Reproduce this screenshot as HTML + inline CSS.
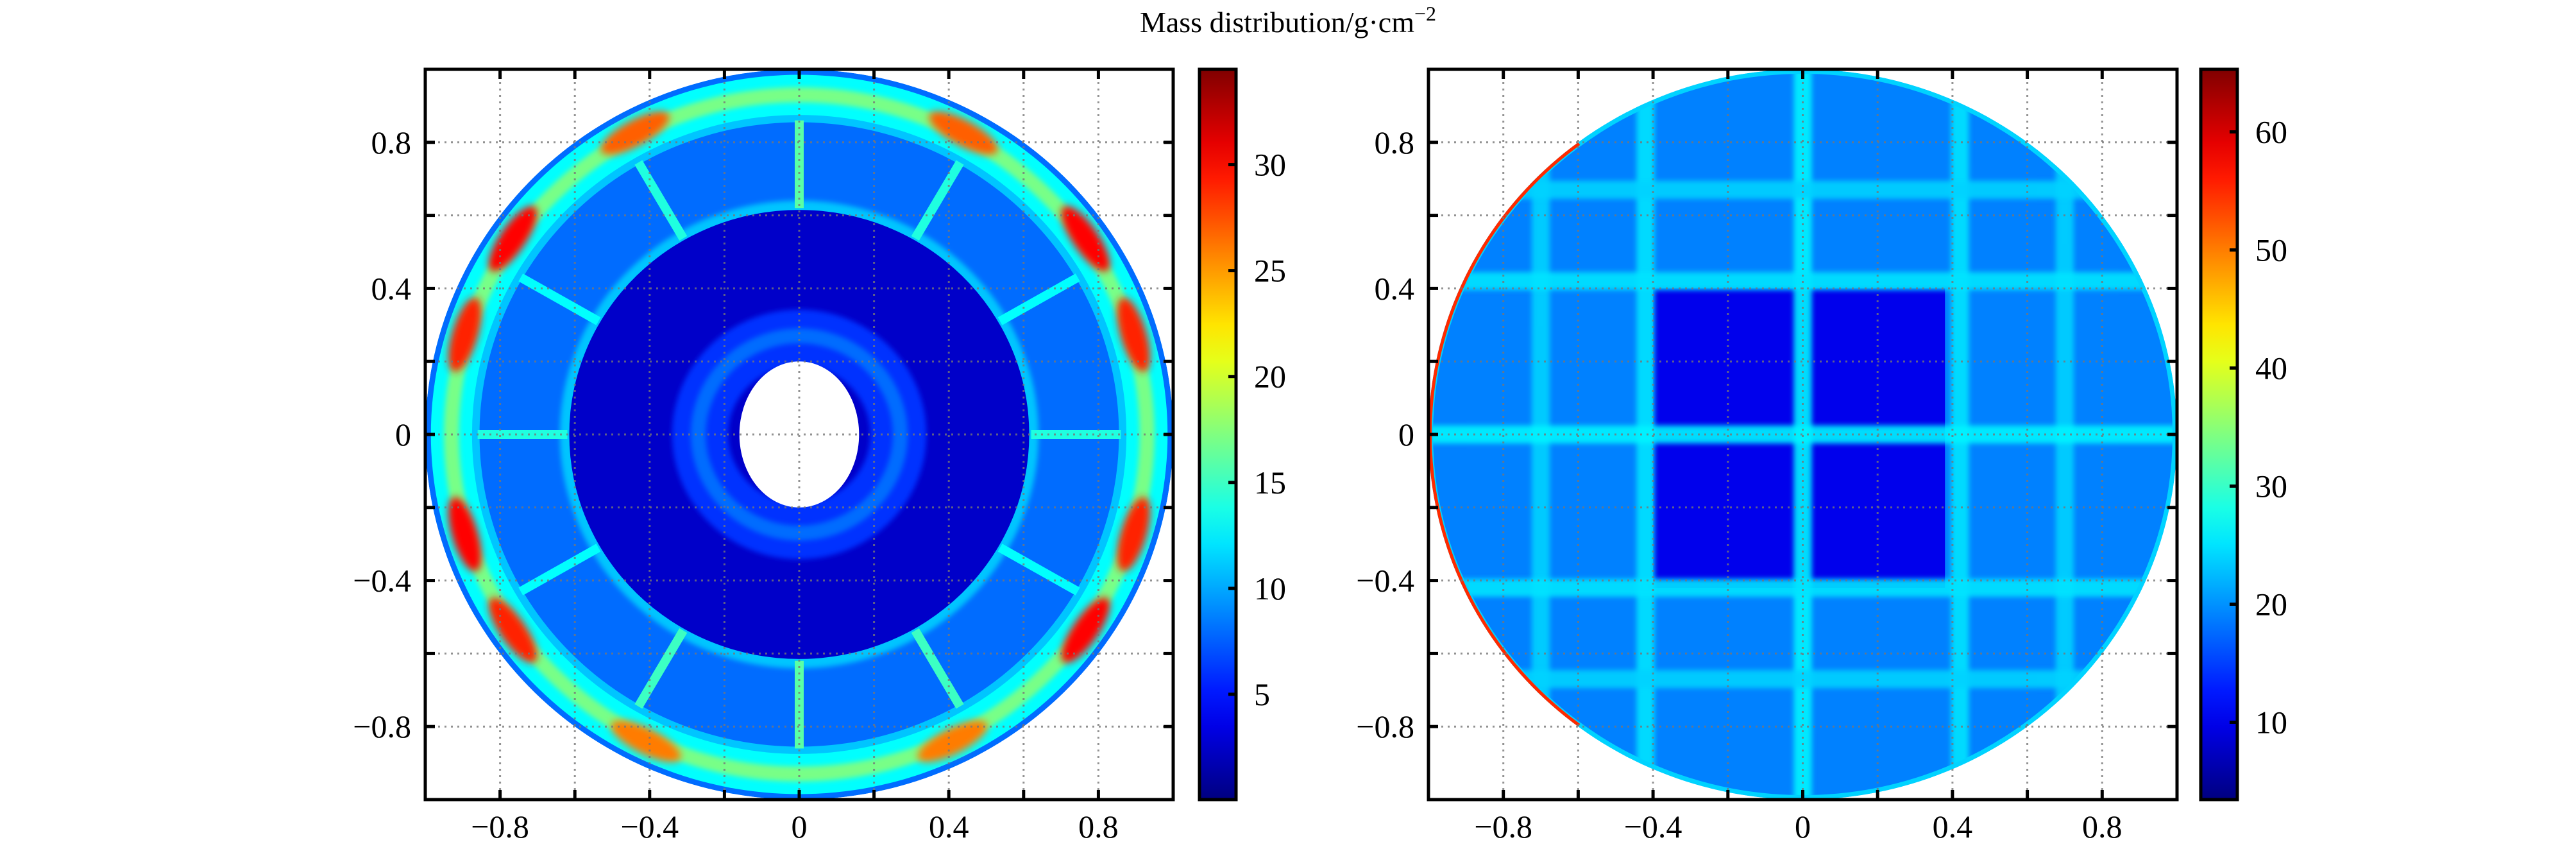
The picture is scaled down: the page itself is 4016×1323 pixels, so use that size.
<!DOCTYPE html>
<html><head><meta charset="utf-8"><style>
html,body{margin:0;padding:0;background:#fff;}
svg{display:block;font-family:"Liberation Serif",serif;}
</style></head><body>
<svg id="fig" xmlns="http://www.w3.org/2000/svg" width="4016" height="1323" viewBox="0 0 4016 1323">
<defs>
<filter id="blur6" x="-50%" y="-50%" width="200%" height="200%"><feGaussianBlur stdDeviation="6"/></filter>
<filter id="blur4" x="-50%" y="-50%" width="200%" height="200%"><feGaussianBlur stdDeviation="4"/></filter>
</defs>
<text x="2008" y="50" text-anchor="middle" font-size="46">Mass distribution/g·cm<tspan dy="-18" font-size="32">−2</tspan></text>
<g id="left"></g>
<g id="right"></g>
</svg>
<script>
// ---------- data ----------
const axisTicks = [-1,-0.8,-0.6,-0.4,-0.2,0,0.2,0.4,0.6,0.8,1];
const axisTickLabels = ["−0.8","−0.4","0","0.4","0.8"];
const axisLabelValues = [-0.8,-0.4,0,0.4,0.8];
const leftCbarTicks = [5,10,15,20,25,30];
const rightCbarTicks = [10,20,30,40,50,60];
const leftRange = [0.03,34.5];
const rightRange = [3.45,65.3];
// left panel: rings [rInner, rOuter, value]  (rInner 0 = filled disk)
const leftRings = [[0,1.0,8],[0,0.985,13],[0.91,0.95,17],[0,0.875,11],[0,0.855,8],[0.6,0.64,11],[0,0.615,2.5],[0.19,0.34,6],[0.25,0.29,8]];
const leftSpokeAngles = [0,30,60,90,120,150,180,210,240,270,300,330];
const leftSpokeValues = [14,13,14,16,14,13,14,13,15,16,15,13];
const leftHotAngles = [17,35,62,118,145,163,197,215,244,296,325,343];
const leftHotValues = [29,30,27,27,30,29,30,29,26,26,30,29];
const leftHoleRadius = 0.2;
// right panel
const rightDiskValue = 19;
const rightSquareValue = 10;
const rightSquare = [-0.4,0.38,-0.42,0.4];
const rightVBands = [-0.7,-0.42,0,0.42,0.7];
const rightHBands = [-0.67,-0.42,0,0.42,0.67];
const rightBandValues = [24,25,26,25,24];
const rightEdgeValue = 55;

// ---------- helpers ----------
const NS="http://www.w3.org/2000/svg";
function mk(tag,attrs,parent){const e=document.createElementNS(NS,tag);for(const k in attrs)e.setAttribute(k,attrs[k]);parent.appendChild(e);return e;}
function clamp(v){return Math.max(0,Math.min(1,v));}
function jet(t){t=clamp(t);const r=clamp(1.5-Math.abs(4*t-3)),g=clamp(1.5-Math.abs(4*t-2)),b=clamp(1.5-Math.abs(4*t-1));return `rgb(${Math.round(r*255)},${Math.round(g*255)},${Math.round(b*255)})`;}
function makeAxes(x0,x1){return {x:v=>(x0+x1)/2+v*(x1-x0)/2,y:v=>677-v*569,sx:(x1-x0)/2,sy:569};}
const L=makeAxes(663,1829), R=makeAxes(2227,3394);
const fig=document.getElementById('fig');

function drawFrame(g,A,name){
  axisTicks.forEach(v=>{
    if(Math.abs(v)>0.99)return;
    const gl=mk('line',{x1:A.x(v),x2:A.x(v),y1:A.y(1),y2:A.y(-1),stroke:'#777','stroke-width':3,'stroke-dasharray':'3 7',opacity:0.8},g);
    
    
    const gh=mk('line',{x1:A.x(-1),x2:A.x(1),y1:A.y(v),y2:A.y(v),stroke:'#777','stroke-width':3,'stroke-dasharray':'3 7',opacity:0.8},g);
    
    
    [[A.x(v),A.y(-1),A.x(v),A.y(-1)-15],[A.x(v),A.y(1),A.x(v),A.y(1)+15],[A.x(-1),A.y(v),A.x(-1)+15,A.y(v)],[A.x(1),A.y(v),A.x(1)-15,A.y(v)]].forEach(c=>{
      const t=mk('line',{x1:c[0],y1:c[1],x2:c[2],y2:c[3],stroke:'#000','stroke-width':5},g);
      
      
    });
  });
  const f=mk('rect',{x:A.x(-1),y:A.y(1),width:A.x(1)-A.x(-1),height:A.y(-1)-A.y(1),fill:'none',stroke:'#000','stroke-width':5},g);
  
  
  axisLabelValues.forEach((v,i)=>{
    const tx=mk('text',{x:A.x(v),y:1305,'text-anchor':'middle','font-size':50},g);
    tx.textContent=axisTickLabels[i];
    
    
    const ty=mk('text',{x:A.x(-1)-22,y:A.y(v)+17,'text-anchor':'end','font-size':50},g);
    ty.textContent=axisTickLabels[i];
    
    
  });
}
function drawCbar(g,x0,range,ticks,name){
  const y0=108,y1=1246,gid=name+'-grad';
  const grad=mk('linearGradient',{id:gid,x1:0,y1:1,x2:0,y2:0},fig.querySelector('defs'));
  for(let i=0;i<=20;i++){mk('stop',{offset:i/20,'stop-color':jet(i/20)},grad);}
  const r=mk('rect',{x:x0,y:y0,width:57,height:y1-y0,fill:`url(#${gid})`,stroke:'#000','stroke-width':5},g);
  
  
  const cy=v=>y1-(v-range[0])/(range[1]-range[0])*(y1-y0);
  ticks.forEach(v=>{
    const t=mk('line',{x1:x0+57,x2:x0+45,y1:cy(v),y2:cy(v),stroke:'#000','stroke-width':5},g);
    
    
    const tx=mk('text',{x:x0+85,y:cy(v)+17,'font-size':50},g);
    tx.textContent=String(v);
    
    
  });
}
function norm(v,range){return (v-range[0])/(range[1]-range[0]);}

// ---------- left panel ----------
(function(){
  const g=document.getElementById('left');
  const cx=L.x(0),cy=L.y(0);
  const cp=mk('clipPath',{id:'clipL'},fig.querySelector('defs'));
  mk('ellipse',{cx:cx,cy:cy,rx:L.sx,ry:L.sy},cp);
  const img=mk('g',{'clip-path':'url(#clipL)'},g);
  
  
  leftRings.forEach(r=>{
    let e;
    if(r[0]===0){e=mk('ellipse',{cx:cx,cy:cy,rx:r[1]*L.sx,ry:r[1]*L.sy,fill:jet(norm(r[2],leftRange))},img);}
    else{const m=(r[0]+r[1])/2,w=(r[1]-r[0]);e=mk('ellipse',{cx:cx,cy:cy,rx:m*L.sx,ry:m*L.sy,fill:'none',stroke:jet(norm(r[2],leftRange)),'stroke-width':w*L.sx,filter:'url(#blur4)'},img);}
    
    
  });
  leftSpokeAngles.forEach((a,i)=>{
    const t=a*Math.PI/180,c=Math.cos(t),s=Math.sin(t);
    const l=mk('line',{x1:L.x(0.62*c),y1:L.y(0.62*s),x2:L.x(0.86*c),y2:L.y(0.86*s),stroke:jet(norm(leftSpokeValues[i],leftRange)),'stroke-width':14},img);
    
    
  });
  leftHotAngles.forEach((a,i)=>{
    const t=a*Math.PI/180,c=Math.cos(t),s=Math.sin(t);
    const px=L.x(0.935*c),py=L.y(0.935*s);
    const ang=-Math.atan2(s*L.sy,c*L.sx)*180/Math.PI+90;
    const e=mk('ellipse',{cx:px,cy:py,rx:60,ry:20,fill:jet(norm(leftHotValues[i],leftRange)),filter:'url(#blur6)',transform:`rotate(${ang} ${px} ${py})`},img);
    
    
  });
  const h=mk('ellipse',{cx:cx,cy:cy,rx:leftHoleRadius*L.sx*0.8,ry:leftHoleRadius*L.sy,fill:'#fff'},img);
  
  
  drawFrame(g,L,'left');
  drawCbar(g,1870,leftRange,leftCbarTicks,'left');
})();

// ---------- right panel ----------
(function(){
  const g=document.getElementById('right');
  const cx=R.x(0),cy=R.y(0);
  const cp=mk('clipPath',{id:'clipR'},fig.querySelector('defs'));
  mk('ellipse',{cx:cx,cy:cy,rx:R.sx,ry:R.sy},cp);
  const img=mk('g',{'clip-path':'url(#clipR)'},g);
  
  
  const d=mk('ellipse',{cx:cx,cy:cy,rx:R.sx,ry:R.sy,fill:jet(norm(rightDiskValue,rightRange))},img);
  
  
  const sq=mk('rect',{x:R.x(rightSquare[0]),y:R.y(rightSquare[3]),width:R.x(rightSquare[1])-R.x(rightSquare[0]),height:R.y(rightSquare[2])-R.y(rightSquare[3]),fill:jet(norm(rightSquareValue,rightRange))},img);
  
  
  const bw=28;
  rightVBands.forEach((v,i)=>{
    const b=mk('rect',{x:R.x(v)-bw/2,y:R.y(1),width:bw,height:R.y(-1)-R.y(1),fill:jet(norm(rightBandValues[i],rightRange)),filter:'url(#blur4)',opacity:0.9},img);
    
    
  });
  rightHBands.forEach((v,i)=>{
    const b=mk('rect',{x:R.x(-1),y:R.y(v)-bw/2,width:R.x(1)-R.x(-1),height:bw,fill:jet(norm(rightBandValues[i],rightRange)),filter:'url(#blur4)',opacity:0.9},img);
    
    
  });
  const rim=mk('ellipse',{cx:cx,cy:cy,rx:R.sx,ry:R.sy,fill:'none',stroke:jet(norm(24,rightRange)),'stroke-width':14},img);
  
  
  const edge=mk('path',{d:`M ${R.x(-0.6)} ${R.y(0.8)} A ${R.sx} ${R.sy} 0 0 0 ${R.x(-0.6)} ${R.y(-0.8)}`,fill:'none',stroke:jet(norm(rightEdgeValue,rightRange)),'stroke-width':10},img);
  
  
  drawFrame(g,R,'right');
  drawCbar(g,3431,rightRange,rightCbarTicks,'right');
})();
</script>
</body></html>
